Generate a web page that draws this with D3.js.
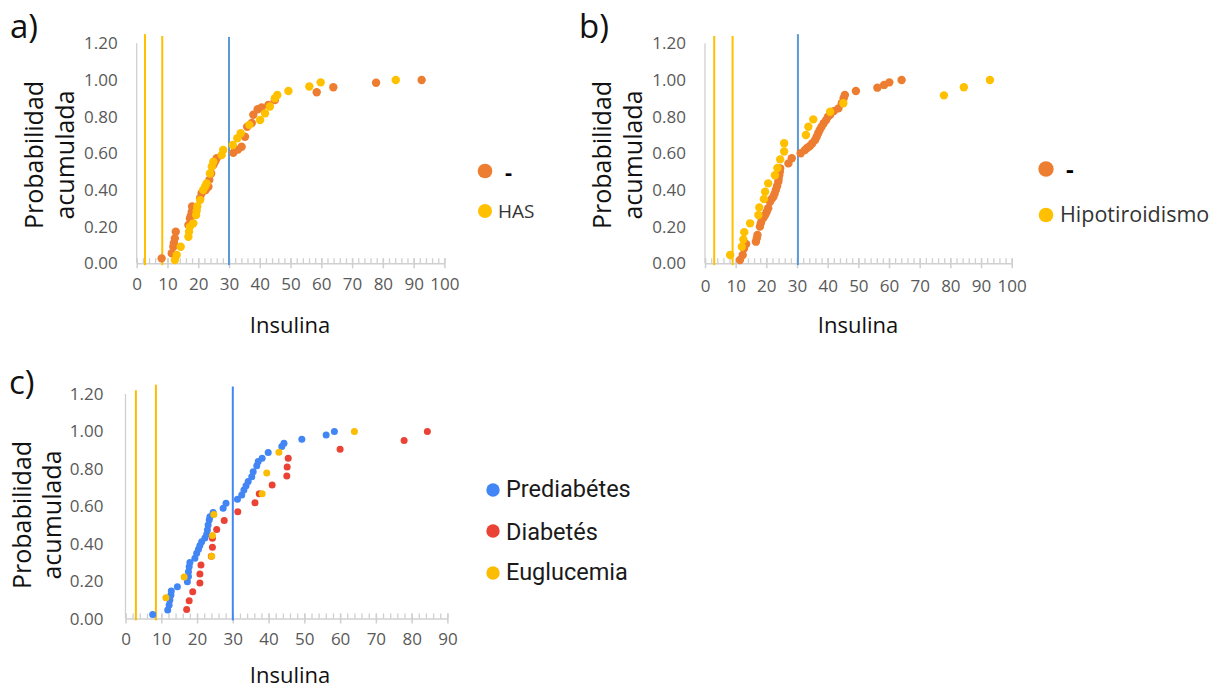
<!DOCTYPE html>
<html>
<head>
<meta charset="utf-8">
<script src="https://cdn.jsdelivr.net/npm/d3@7"></script>
<style>
  body { margin: 0; background: #fff; }
  svg { display: block; }
</style>
</head>
<body>
<div id="chart"></div>
<script>
// ---- data ----
var yTicks = [0, 0.2, 0.4, 0.6, 0.8, 1.0, 1.2]

// a) HAS
var aNoX = [8.1, 11.4, 11.9, 12.1, 12.4, 12.7, 16.8, 17.3, 17.6, 17.9, 18.0, 20.6, 21.1, 22.4, 23.3, 23.6, 24.2, 24.9, 25.5, 26.0,
  31.4, 32.9, 34.1, 35.2, 35.9, 37.4, 37.9, 39.3, 40.6, 42.8, 44.9, 58.5, 63.9, 77.8, 92.6]
var aNoP = [0.027, 0.055, 0.09, 0.11, 0.136, 0.172, 0.209, 0.245, 0.26, 0.282, 0.31, 0.355, 0.382, 0.40, 0.418, 0.455, 0.49, 0.536, 0.555, 0.573,
  0.603, 0.62, 0.636, 0.69, 0.745, 0.765, 0.81, 0.84, 0.85, 0.864, 0.89, 0.933, 0.96, 0.985, 1.0]
var aHasX = [12.4, 13.0, 14.3, 16.8, 17.0, 17.3, 18.4, 19.3, 19.5, 19.7, 20.6, 21.6, 22.2, 22.7, 23.8, 24.4, 24.9, 27.6, 28.1, 31.2,
  32.7, 33.8, 36.6, 40.1, 41.7, 43.3, 44.9, 45.7, 49.3, 56.1, 59.8, 84.2]
var aHasP = [0.018, 0.045, 0.09, 0.145, 0.172, 0.2, 0.218, 0.263, 0.286, 0.31, 0.345, 0.40, 0.418, 0.436, 0.49, 0.527, 0.554, 0.59, 0.618, 0.645,
  0.682, 0.709, 0.755, 0.782, 0.818, 0.855, 0.9, 0.918, 0.94, 0.964, 0.987, 1.0]
var aLines = [2.7, 8.3, 30]
var aLinesTop = [1.25, 1.24, 1.235]

// b) Hipotiroidismo
var bNoX = [11.4, 12.3, 12.7, 13.4, 16.6, 16.9, 17.1, 17.9, 18.2, 18.5, 19.1, 19.6, 20.1, 20.6, 21.2, 21.7, 22.3, 22.7, 23.1, 23.5,
  23.9, 24.0, 24.2, 24.4, 24.5, 27.2, 28.3, 31.2, 32.6, 33.4, 34.2, 35.0, 35.9, 36.4, 36.9, 37.4, 38.0, 38.7, 39.5, 40.1,
  40.8, 42.0, 43.5, 44.6, 45.2, 45.6, 49.2, 56.2, 58.4, 60.1, 64.1]
var bNoP = [0.018, 0.045, 0.08, 0.105, 0.118, 0.136, 0.155, 0.2, 0.218, 0.236, 0.25, 0.263, 0.28, 0.3, 0.336, 0.35, 0.363, 0.38, 0.4, 0.42,
  0.445, 0.46, 0.48, 0.5, 0.518, 0.545, 0.573, 0.6, 0.618, 0.63, 0.64, 0.655, 0.673, 0.69, 0.709, 0.727, 0.745, 0.764, 0.782, 0.8,
  0.81, 0.83, 0.845, 0.873, 0.9, 0.918, 0.94, 0.958, 0.973, 0.987, 1.0]
var bHipoX = [8.2, 12.0, 12.5, 12.8, 14.7, 17.4, 17.7, 19.2, 19.6, 20.6, 22.8, 23.6, 24.5, 25.8, 25.8, 32.9, 33.7, 35.3, 40.8, 45.1,
  77.9, 84.4, 92.9]
var bHipoP = [0.045, 0.09, 0.13, 0.17, 0.218, 0.263, 0.305, 0.35, 0.39, 0.436, 0.48, 0.52, 0.567, 0.61, 0.655, 0.70, 0.745, 0.785, 0.827, 0.873,
  0.916, 0.96, 1.0]
var bLines = [3.0, 9.0, 30.3]
var bLinesTop = [1.24, 1.24, 1.25]

// c) glucemia
var cPreX = [7.6, 11.8, 12.2, 12.4, 12.7, 12.8, 14.5, 17.3, 17.6, 17.6, 17.8, 18.0, 19.4, 19.9, 20.4, 20.8, 21.3, 22.2, 22.7, 22.9,
  23.1, 23.4, 23.6, 24.5, 27.3, 28.1, 31.3, 32.5, 33.1, 33.7, 34.3, 35.3, 35.7, 36.7, 37.1, 38.2, 39.9, 43.7, 44.3, 49.3,
  56.1, 58.4]
var cPreP = [0.022, 0.045, 0.072, 0.099, 0.126, 0.147, 0.17, 0.197, 0.224, 0.25, 0.277, 0.3, 0.322, 0.349, 0.37, 0.39, 0.41, 0.43, 0.45, 0.473,
  0.5, 0.527, 0.544, 0.566, 0.589, 0.616, 0.637, 0.66, 0.687, 0.709, 0.732, 0.758, 0.785, 0.816, 0.839, 0.857, 0.887, 0.919, 0.937, 0.958,
  0.981, 1.0]
var cDiaX = [17.1, 17.8, 18.8, 20.8, 20.8, 21.1, 24.0, 24.3, 24.3, 25.5, 27.6, 31.4, 36.2, 37.4, 41.0, 45.1, 45.2, 45.5, 60.0, 77.9, 84.4]
var cDiaP = [0.048, 0.095, 0.143, 0.19, 0.238, 0.286, 0.333, 0.381, 0.429, 0.476, 0.524, 0.571, 0.619, 0.667, 0.714, 0.762, 0.81, 0.857, 0.905, 0.952, 1.0]
var cEuX = [11.3, 16.4, 24.1, 24.3, 24.7, 38.2, 39.5, 42.9, 64.0]
var cEuP = [0.111, 0.222, 0.333, 0.444, 0.556, 0.667, 0.778, 0.889, 1.0]
var cLines = [2.9, 8.5, 30]
var cLinesTop = [1.22, 1.25, 1.24]

// ---- drawing ----
var W = 1217, H = 688
var svg = d3.select('#chart').append('svg').attr('width', W).attr('height', H)
  .style('font-family', '"Open Sans", sans-serif')

function zip(xs, ps) { return xs.map(function (v, i) { return { x: v, p: ps[i] } }) }

function panel(cfg) {
  var g = svg.append('g')
  var x = d3.scaleLinear().domain([0, cfg.xMax]).range([cfg.left, cfg.right])
  var y = d3.scaleLinear().domain([0, 1.2]).range([cfg.bottom, cfg.top])

  // left axis line (no ticks)
  g.append('line')
    .attr('x1', x(0)).attr('x2', x(0))
    .attr('y1', y(0)).attr('y2', y(1.2))
    .attr('stroke', '#d0d0d0').attr('stroke-width', 1.3)

  g.selectAll('.ylab').data(yTicks).enter().append('text')
    .attr('class', 'ylab')
    .attr('x', cfg.left - cfg.ylabGap)
    .attr('y', function (d) { return y(d) + 6 })
    .attr('text-anchor', 'end')
    .attr('font-size', 17)
    .attr('fill', '#595959')
    .text(function (d) { return d3.format('.2f')(d) })

  // x axis: minor ticks up, major ticks crossing with labels
  var minors = d3.range(0, cfg.xMax + 0.1, 2)
  var majors = d3.range(0, cfg.xMax + 0.1, 10)
  var minorAxis = d3.axisTop(x).tickValues(minors).tickSize(5).tickSizeOuter(0).tickFormat('')
  var majorAxis = d3.axisBottom(x).tickValues(majors).tickSize(5).tickSizeOuter(0).tickPadding(9)

  var ga = g.append('g').attr('transform', 'translate(0,' + y(0) + ')').call(minorAxis)
  ga.select('.domain').remove()
  ga.selectAll('line').attr('stroke', '#cfcfcf').attr('stroke-width', 1.3)

  var gb = g.append('g').attr('transform', 'translate(0,' + y(0) + ')').call(majorAxis)
  gb.select('.domain').attr('stroke', '#d0d0d0').attr('stroke-width', 1.5)
  gb.selectAll('line').attr('stroke', '#cfcfcf').attr('stroke-width', 1.5)
  gb.selectAll('line').attr('y1', -5)
  gb.selectAll('text')
    .attr('font-family', '"Open Sans", sans-serif')
    .attr('font-size', 17)
    .attr('fill', '#595959')
    .attr('dy', cfg.xlabDy)

  // reference lines
  g.selectAll('.ref').data(cfg.lines).enter().append('line')
    .attr('x1', function (d) { return x(d) }).attr('x2', function (d) { return x(d) })
    .attr('y1', y(-0.01))
    .attr('y2', function (d, i) { return y(cfg.linesTop[i]) })
    .attr('stroke', function (d, i) { return cfg.lineColors[i] })
    .attr('stroke-width', 2)

  // dots
  cfg.series.forEach(function (s) {
    g.append('g').selectAll('circle').data(zip(s.x, s.p)).enter().append('circle')
      .attr('cx', function (d) { return x(d.x) })
      .attr('cy', function (d) { return y(d.p) })
      .attr('r', cfg.r)
      .attr('fill', s.color)
  })

  // titles
  g.append('text').attr('x', cfg.tagX).attr('y', cfg.tagY)
    .attr('font-size', 33).attr('fill', '#111').text(cfg.tag)

  g.append('text')
    .attr('transform', 'translate(' + cfg.ytX1 + ',' + cfg.ytY + ') rotate(-90)')
    .attr('text-anchor', 'middle').attr('font-size', 25).attr('fill', '#111')
    .text('Probabilidad')
  g.append('text')
    .attr('transform', 'translate(' + cfg.ytX2 + ',' + cfg.ytY + ') rotate(-90)')
    .attr('text-anchor', 'middle').attr('font-size', 25).attr('fill', '#111')
    .text('acumulada')

  g.append('text').attr('x', cfg.xtX).attr('y', cfg.xtY)
    .attr('text-anchor', 'middle').attr('font-size', 22).attr('fill', '#111')
    .text('Insulina')

  // legend
  var lg = g.append('g')
  cfg.legend.forEach(function (l) {
    lg.append('circle').attr('cx', l.cx).attr('cy', l.cy).attr('r', l.r).attr('fill', l.color)
    lg.append('text').attr('x', l.tx).attr('y', l.ty)
      .attr('font-size', l.size)
      .attr('font-weight', l.bold ? 700 : 400)
      .attr('font-family', l.font || '"Open Sans", sans-serif')
      .attr('fill', l.fill || '#333')
      .text(l.label)
  })
}

panel({
  xMax: 100, left: 136.7, right: 444.4, bottom: 263.3, top: 43.3, r: 4.2,
  ylabGap: 19, xlabDy: '0.75em',
  lines: aLines, linesTop: aLinesTop, lineColors: ['#FFC000', '#FFC000', '#5B9BD5'],
  series: [
    { x: aNoX, p: aNoP, color: '#ED7D31' },
    { x: aHasX, p: aHasP, color: '#FFC000' }
  ],
  tag: 'a)', tagX: 10, tagY: 38,
  ytX1: 43, ytX2: 74, ytY: 155,
  xtX: 290, xtY: 333,
  legend: [
    { cx: 485, cy: 171, r: 7.3, color: '#ED7D31', tx: 505, ty: 180, size: 22, bold: true, label: '-', fill: '#000' },
    { cx: 485, cy: 211, r: 7, color: '#FFC000', tx: 498, ty: 218, size: 19, label: 'HAS' }
  ]
})

panel({
  xMax: 100, left: 705, right: 1011.7, bottom: 263.3, top: 43.3, r: 4.2,
  ylabGap: 19, xlabDy: '0.85em',
  lines: bLines, linesTop: bLinesTop, lineColors: ['#FFC000', '#FFC000', '#5B9BD5'],
  series: [
    { x: bNoX, p: bNoP, color: '#ED7D31' },
    { x: bHipoX, p: bHipoP, color: '#FFC000' }
  ],
  tag: 'b)', tagX: 579, tagY: 38,
  ytX1: 611, ytX2: 642, ytY: 155,
  xtX: 858, xtY: 333,
  legend: [
    { cx: 1046, cy: 169, r: 7.7, color: '#ED7D31', tx: 1066, ty: 178, size: 24, bold: true, label: '-', fill: '#000' },
    { cx: 1046, cy: 215, r: 7.3, color: '#FFC000', tx: 1060, ty: 222, size: 21.5, label: 'Hipotiroidismo' }
  ]
})

panel({
  xMax: 90, left: 125.5, right: 447.4, bottom: 618.5, top: 394, r: 3.5,
  ylabGap: 22, xlabDy: '0.75em',
  lines: cLines, linesTop: cLinesTop, lineColors: ['#FBBC04', '#FBBC04', '#4285F4'],
  series: [
    { x: cPreX, p: cPreP, color: '#4285F4' },
    { x: cDiaX, p: cDiaP, color: '#EA4335' },
    { x: cEuX, p: cEuP, color: '#FBBC04' }
  ],
  tag: 'c)', tagX: 9, tagY: 394,
  ytX1: 31, ytX2: 61, ytY: 515,
  xtX: 290, xtY: 683,
  legend: [
    { cx: 493, cy: 490, r: 6.7, color: '#4285F4', tx: 506, ty: 497, size: 23.5, label: 'Prediabétes', font: 'Roboto', fill: '#1a1a1a' },
    { cx: 493, cy: 531, r: 6.7, color: '#EA4335', tx: 506, ty: 540, size: 23.5, label: 'Diabetés', font: 'Roboto', fill: '#1a1a1a' },
    { cx: 493, cy: 573, r: 6.7, color: '#FBBC04', tx: 506, ty: 580, size: 23.5, label: 'Euglucemia', font: 'Roboto', fill: '#1a1a1a' }
  ]
})
</script>
</body>
</html>
